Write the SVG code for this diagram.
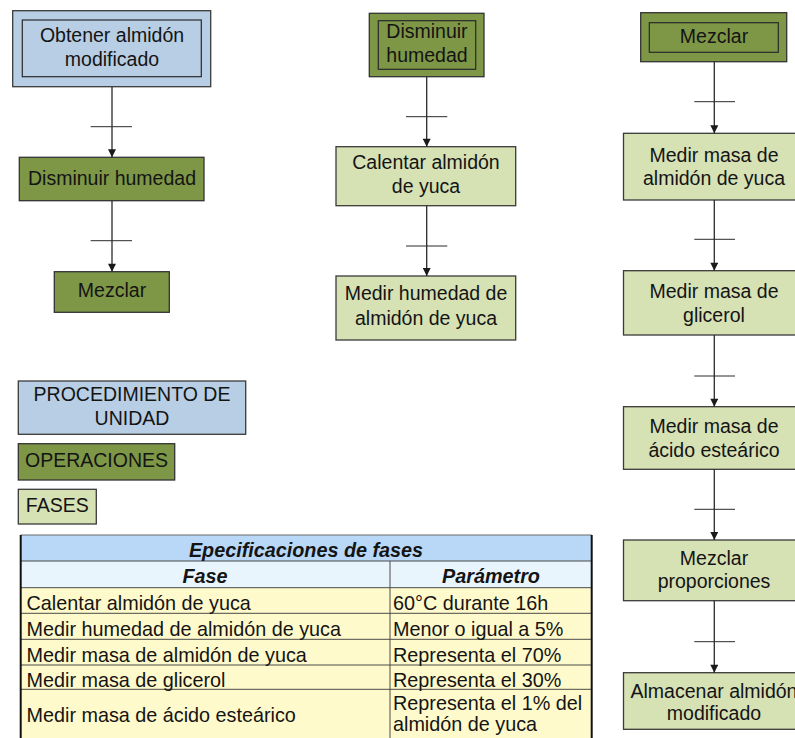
<svg xmlns="http://www.w3.org/2000/svg" width="795" height="738" viewBox="0 0 795 738">
  <style>
    text { font-family: "Liberation Sans", Arial, sans-serif; font-size: 19.5px; fill: #141414; text-anchor: middle; }
    .proc { fill: #b8cee4; stroke: #3a3a3a; stroke-width: 1.3; }
    .oper { fill: #7e9747; stroke: #333333; stroke-width: 1.3; }
    .fase { fill: #d6e1b4; stroke: #3a3a3a; stroke-width: 1.3; }
    .inner { fill: none; stroke: #2a2a2a; stroke-width: 1.2; }
    .link { stroke: #2b2b2b; stroke-width: 1.3; fill: none; }
    .tick { stroke: #2b2b2b; stroke-width: 1; }
    .tbl { font-size: 19.8px; }
    .tbl-left { text-anchor: start; }
    .tbl-head { font-weight: bold; font-style: italic; }
    .rowline { stroke: #4a4a4a; stroke-width: 1; }
  </style>
  <defs>
    <marker id="arrow" viewBox="0 0 10 10" refX="10" refY="5" markerWidth="10" markerHeight="8" markerUnits="userSpaceOnUse" orient="auto">
      <path d="M0,0 L10,5 L0,10 z" fill="#1a1a1a"/>
    </marker>
  </defs>

  <rect width="795" height="738" fill="#ffffff"/>

  <!-- Left column: unit procedure and its operations -->
  <g id="proc-obtener">
    <rect class="proc" x="12.7" y="10.7" width="198" height="76"/>
    <rect class="inner" x="22.3" y="20" width="179" height="56.7"/>
    <text x="112" y="42">Obtener almidón</text>
    <text x="112" y="66">modificado</text>
  </g>
  <g id="op-disminuir">
    <rect class="oper" x="19.3" y="157.3" width="184.7" height="43.4"/>
    <text x="112" y="185">Disminuir humedad</text>
  </g>
  <g id="op-mezclar">
    <rect class="oper" x="54.3" y="271.7" width="115" height="40.6"/>
    <text x="112" y="297">Mezclar</text>
  </g>

  <!-- Middle column: Disminuir humedad phases -->
  <g id="op-disminuir-detail">
    <rect class="oper" x="369.3" y="13.3" width="114.7" height="63.4"/>
    <rect class="inner" x="378.3" y="20.7" width="97.4" height="48.6"/>
    <text x="427" y="38.3">Disminuir</text>
    <text x="427" y="61.7">humedad</text>
  </g>
  <g id="fase-calentar">
    <rect class="fase" x="336" y="146.7" width="179.7" height="59"/>
    <text x="426" y="169.3">Calentar almidón</text>
    <text x="426" y="193">de yuca</text>
  </g>
  <g id="fase-medir-humedad">
    <rect class="fase" x="336" y="276" width="179.7" height="64"/>
    <text x="426" y="300">Medir humedad de</text>
    <text x="426" y="325">almidón de yuca</text>
  </g>

  <!-- Right column: Mezclar phases -->
  <g id="op-mezclar-detail">
    <rect class="oper" x="640.7" y="12.7" width="146" height="49"/>
    <rect class="inner" x="649.3" y="22.7" width="129" height="29.6"/>
    <text x="714" y="43.3">Mezclar</text>
  </g>
  <g id="fase-masa-almidon">
    <rect class="fase" x="623.5" y="133.3" width="182" height="66.7"/>
    <text x="714" y="161.7">Medir masa de</text>
    <text x="714" y="185">almidón de yuca</text>
  </g>
  <g id="fase-masa-glicerol">
    <rect class="fase" x="623.5" y="270.7" width="182" height="64.3"/>
    <text x="714" y="298.3">Medir masa de</text>
    <text x="714" y="321.7">glicerol</text>
  </g>
  <g id="fase-masa-acido">
    <rect class="fase" x="623.5" y="406.7" width="182" height="62.6"/>
    <text x="714" y="433.3">Medir masa de</text>
    <text x="714" y="456.7">ácido esteárico</text>
  </g>
  <g id="fase-mezclar-proporciones">
    <rect class="fase" x="623.5" y="540" width="182" height="60.7"/>
    <text x="714" y="565">Mezclar</text>
    <text x="714" y="587.5">proporciones</text>
  </g>
  <g id="fase-almacenar">
    <rect class="fase" x="623.5" y="672.7" width="182" height="56.6"/>
    <text x="714" y="698.3">Almacenar almidón</text>
    <text x="714" y="720">modificado</text>
  </g>

  <!-- Connectors with transition bars -->
  <g id="connectors">
    <line class="link" x1="112" y1="86.7" x2="112" y2="157.3" marker-end="url(#arrow)"/>
    <line class="tick" x1="90.7" y1="126.7" x2="132" y2="126.7"/>
    <line class="link" x1="112" y1="200.7" x2="112" y2="271.7" marker-end="url(#arrow)"/>
    <line class="tick" x1="90.7" y1="240.7" x2="132" y2="240.7"/>

    <line class="link" x1="426.7" y1="76.7" x2="426.7" y2="146.7" marker-end="url(#arrow)"/>
    <line class="tick" x1="406" y1="116.7" x2="447.3" y2="116.7"/>
    <line class="link" x1="426.7" y1="205.7" x2="426.7" y2="276" marker-end="url(#arrow)"/>
    <line class="tick" x1="406" y1="246" x2="447.3" y2="246"/>

    <line class="link" x1="714.3" y1="61.7" x2="714.3" y2="133.3" marker-end="url(#arrow)"/>
    <line class="tick" x1="694.3" y1="101.7" x2="735" y2="101.7"/>
    <line class="link" x1="714.3" y1="200" x2="714.3" y2="270.7" marker-end="url(#arrow)"/>
    <line class="tick" x1="694.3" y1="239.3" x2="735" y2="239.3"/>
    <line class="link" x1="714.3" y1="335" x2="714.3" y2="406.7" marker-end="url(#arrow)"/>
    <line class="tick" x1="694.3" y1="376" x2="735" y2="376"/>
    <line class="link" x1="714.3" y1="469.3" x2="714.3" y2="540" marker-end="url(#arrow)"/>
    <line class="tick" x1="694.3" y1="509.3" x2="735" y2="509.3"/>
    <line class="link" x1="714.3" y1="600.7" x2="714.3" y2="672.7" marker-end="url(#arrow)"/>
    <line class="tick" x1="694.3" y1="641.7" x2="735" y2="641.7"/>
  </g>

  <!-- Legend -->
  <g id="legend-procedimiento">
    <rect class="proc" x="18.3" y="381" width="227.4" height="53.3"/>
    <text x="132" y="400.7">PROCEDIMIENTO DE</text>
    <text x="132" y="425">UNIDAD</text>
  </g>
  <g id="legend-operaciones">
    <rect class="oper" x="18.3" y="443.7" width="156.4" height="36.3"/>
    <text x="96.5" y="466.7">OPERACIONES</text>
  </g>
  <g id="legend-fases">
    <rect class="fase" x="18.3" y="489.3" width="78" height="34.7"/>
    <text x="57.3" y="511.7">FASES</text>
  </g>

  <!-- Phase specification table -->
  <g id="tabla-especificaciones">
    <rect x="20.7" y="535" width="571" height="26" fill="#b9d8f7"/>
    <rect x="20.7" y="561" width="571" height="26.7" fill="#e8f5fd"/>
    <rect x="20.7" y="587.7" width="571" height="160" fill="#fffacb"/>
    <line class="rowline" x1="20.7" y1="561" x2="591.7" y2="561"/>
    <line class="rowline" x1="20.7" y1="587.7" x2="591.7" y2="587.7"/>
    <line class="rowline" x1="20.7" y1="613.3" x2="591.7" y2="613.3"/>
    <line class="rowline" x1="20.7" y1="639.3" x2="591.7" y2="639.3"/>
    <line class="rowline" x1="20.7" y1="665" x2="591.7" y2="665"/>
    <line class="rowline" x1="20.7" y1="689.3" x2="591.7" y2="689.3"/>
    <line class="rowline" x1="390" y1="561" x2="390" y2="745"/>
    <line x1="20.7" y1="535" x2="591.7" y2="535" stroke="#6a6a6a" stroke-width="1.2"/>
    <line x1="20.7" y1="535" x2="20.7" y2="745" stroke="#111111" stroke-width="2"/>
    <line x1="591.7" y1="535" x2="591.7" y2="745" stroke="#111111" stroke-width="2"/>

    <text class="tbl tbl-head" x="306" y="556.5">Epecificaciones de fases</text>
    <text class="tbl tbl-head" x="205" y="582.5">Fase</text>
    <text class="tbl tbl-head" x="491" y="582.5">Parámetro</text>

    <text class="tbl tbl-left" x="26.5" y="610">Calentar almidón de yuca</text>
    <text class="tbl tbl-left" x="26.5" y="636">Medir humedad de almidón de yuca</text>
    <text class="tbl tbl-left" x="26.5" y="661.7">Medir masa de almidón de yuca</text>
    <text class="tbl tbl-left" x="26.5" y="687.3">Medir masa de glicerol</text>
    <text class="tbl tbl-left" x="26.5" y="722.3">Medir masa de ácido esteárico</text>

    <text class="tbl tbl-left" x="393" y="610">60°C durante 16h</text>
    <text class="tbl tbl-left" x="393" y="636">Menor o igual a 5%</text>
    <text class="tbl tbl-left" x="393" y="661.7">Representa el 70%</text>
    <text class="tbl tbl-left" x="393" y="687.3">Representa el 30%</text>
    <text class="tbl tbl-left" x="393" y="710">Representa el 1% del</text>
    <text class="tbl tbl-left" x="393" y="731">almidón de yuca</text>
  </g>
</svg>
